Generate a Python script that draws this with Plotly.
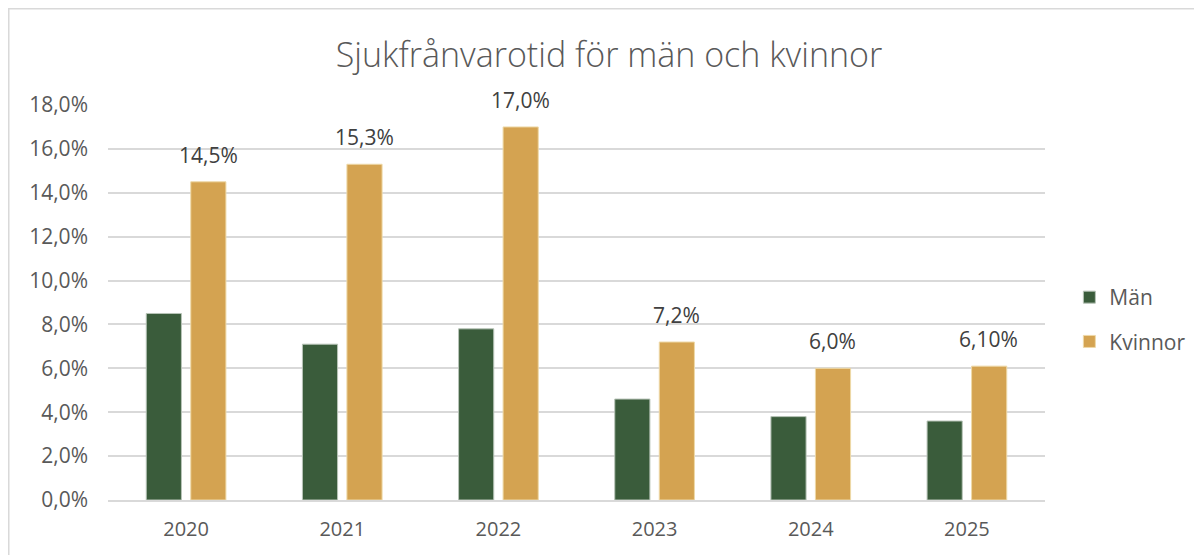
import plotly.graph_objects as go

years = ["2020", "2021", "2022", "2023", "2024", "2025"]
man = [0.085, 0.071, 0.078, 0.046, 0.038, 0.036]
kvinnor = [0.145, 0.153, 0.170, 0.072, 0.060, 0.061]
kvinnor_labels = ["14,5%", "15,3%", "17,0%", "7,2%", "6,0%", "6,10%"]
y_ticks = [0, 0.02, 0.04, 0.06, 0.08, 0.10, 0.12, 0.14, 0.16, 0.18]

GREEN = "#3A5C3B"
GOLD = "#D4A351"
FONT = "Open Sans"

fig = go.Figure()
fig.add_trace(go.Bar(
    x=years, y=man, name="Män", legendgroup="a",
    marker=dict(color=GREEN, line=dict(color="#B8C4B8", width=1)),
))
fig.add_trace(go.Bar(
    x=years, y=kvinnor, name="Kvinnor", legendgroup="b",
    marker=dict(color=GOLD, line=dict(color="#EED9A8", width=1)),
))

# data labels above the Kvinnor bars (category index -> gold bar via xshift)
annotations = [
    dict(x=i, y=v, text=t, xref="x", yref="y", showarrow=False,
         xanchor="center", yanchor="bottom", xshift=22, yshift=11,
         font=dict(family=FONT, size=21, color="#404040"))
    for i, (v, t) in enumerate(zip(kvinnor, kvinnor_labels))
]

fig.update_layout(
    width=1202, height=555,
    margin=dict(l=100, r=165, t=97, b=63),
    paper_bgcolor="white", plot_bgcolor="white",
    separators=", ",
    barmode="group", bargap=0.43, bargroupgap=0.21,
    title=dict(text="Sjukfrånvarotid för män och kvinnor", x=0.5, xanchor="center",
               y=0.915, yanchor="middle",
               font=dict(family=FONT, size=34, color="#595959", weight=300)),
    font=dict(family=FONT, color="#595959"),
    showlegend=True,
    legend=dict(x=1.026, xanchor="left", y=0.457, yanchor="middle",
                font=dict(family=FONT, size=21, color="#595959"),
                tracegroupgap=14, itemwidth=30, traceorder="grouped"),
    xaxis=dict(type="category", showgrid=False, showline=True, linecolor="#D9D9D9",
               linewidth=1.5, ticks="",
               tickfont=dict(family=FONT, size=20, color="#595959"),
               ticklabelstandoff=10),
    yaxis=dict(range=[0, 0.18], tickvals=y_ticks, tickformat=".1%",
               showgrid=True, gridcolor="#D9D9D9", gridwidth=1.5,
               zeroline=False, showline=False, ticks="",
               tickfont=dict(family=FONT, size=21, color="#595959"),
               ticklabelstandoff=19),
    annotations=annotations,
    shapes=[dict(type="path", xref="paper", yref="paper",
                 path="M -0.1059 -0.3 L -0.1059 1.2437 L 1.3 1.2437",
                 line=dict(color="#D9D9D9", width=1.5))],
)

fig.write_html("out.html")
